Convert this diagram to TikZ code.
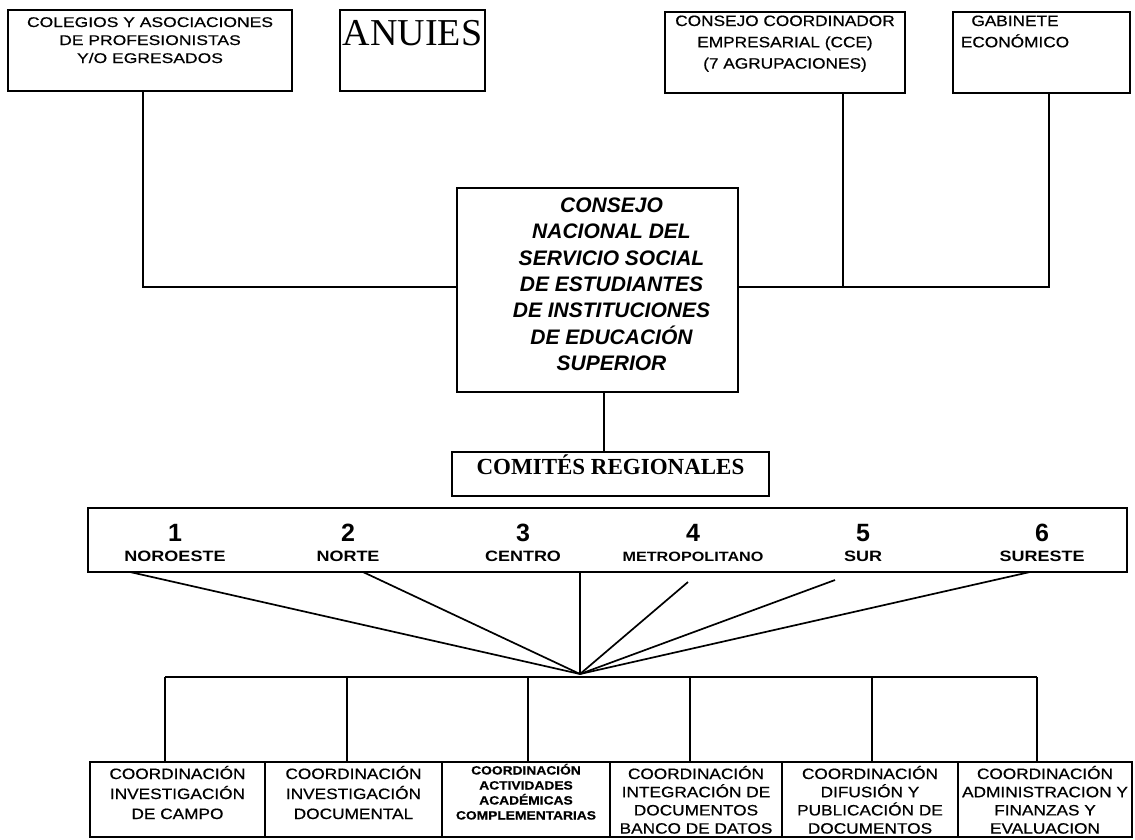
\documentclass[tikz,border=0pt]{standalone}
\usepackage{fontspec}
\setmainfont{Liberation Serif}
\newfontfamily\optf[FakeStretch=1.15,FakeBold=0.6]{Liberation Sans}
\newfontfamily\optw[FakeStretch=1.25,FakeBold=0.6]{Liberation Sans}
\newfontfamily\regf[FakeStretch=1.2]{Liberation Sans}
\newfontfamily\arialf{Liberation Sans}
\newcommand\bx[6]{\parbox[c][#2][t]{#1}{#4\centering\vspace*{#3}\leavevmode\smash{#5}#6\par}}
\tikzset{
  bxs/.style={draw, line width=1.7pt, inner sep=0pt, outer sep=0pt, anchor=north west},
  ln/.style={line width=1.7pt},
  numf/.style={anchor=base, inner sep=0pt, font=\arialf\bfseries\fontsize{25}{25}\selectfont},
  labf/.style={anchor=base, inner sep=0pt, font=\regf\bfseries\fontsize{15}{15}\selectfont}
}
\begin{document}
\begin{tikzpicture}[x=1pt,y=-1pt]
\fill[white] (0,0) rectangle (1135,839);
\useasboundingbox (0,0) rectangle (1135,839);
% top boxes
\node[bxs] (col) at (8,10) {\bx{284pt}{81pt}{17pt}{\optw\fontsize{14}{18}\selectfont}{COLEGIOS Y ASOCIACIONES}{\\DE PROFESIONISTAS\\Y/O EGRESADOS}};
\node[bxs] (anu) at (340,10) {\bx{145pt}{81pt}{35pt}{\fontsize{38}{40}\selectfont}{ANUIES}{}};
\node[bxs] (cce) at (665,12) {\bx{240pt}{81pt}{14pt}{\optf\fontsize{15}{21.3}\selectfont}{CONSEJO COORDINADOR}{\\EMPRESARIAL (CCE)\\(7 AGRUPACIONES)}};
\node[bxs] (gab) at (953,12) {\bx{124pt}{81pt}{14pt}{\optf\fontsize{15}{21.3}\selectfont}{GABINETE}{\\ECONÓMICO}\hspace*{53pt}};
% central council
\node[bxs] (cn) at (457,188) {\hspace*{28pt}\bx{253pt}{204pt}{24.5pt}{\arialf\bfseries\itshape\fontsize{21}{26.3}\selectfont}{CONSEJO}{\\NACIONAL DEL\\SERVICIO SOCIAL\\DE ESTUDIANTES\\DE INSTITUCIONES\\DE EDUCACIÓN\\SUPERIOR}};
% comites
\node[bxs] (com) at (452,452) {\bx{317pt}{44pt}{22pt}{\bfseries\fontsize{23}{24}\selectfont}{COMITÉS REGIONALES}{}};
% regions
\node[bxs, minimum width=1039pt, minimum height=64pt] (reg) at (88,508) {};
\node[numf] (n1) at (175,541) {1};
\node[numf] (n2) at (348,541) {2};
\node[numf] (n3) at (523,541) {3};
\node[numf] (n4) at (693,541) {4};
\node[numf] (n5) at (863,541) {5};
\node[numf] (n6) at (1042,541) {6};
\node[labf] (r1) at (175,561) {NOROESTE};
\node[labf] (r2) at (348,561) {NORTE};
\node[labf] (r3) at (523,561) {CENTRO};
\node[labf, font=\regf\bfseries\fontsize{13.5}{14}\selectfont] (r4) at (693,561) {METROPOLITANO};
\node[labf] (r5) at (863,561) {SUR};
\node[labf] (r6) at (1042,561) {SURESTE};
% bottom boxes
\node[bxs] (b1) at (90,762) {\bx{175pt}{75pt}{17pt}{\optf\fontsize{15}{20}\selectfont}{COORDINACIÓN}{\\INVESTIGACIÓN\\DE CAMPO}};
\node[bxs] (b2) at (265,762) {\bx{177pt}{75pt}{17pt}{\optf\fontsize{15}{20}\selectfont}{COORDINACIÓN}{\\INVESTIGACIÓN\\DOCUMENTAL}};
\node[bxs] (b3) at (442,762) {\bx{168pt}{75pt}{12.5pt}{\optf\bfseries\fontsize{12}{15}\selectfont}{COORDINACIÓN}{\\ACTIVIDADES\\ACADÉMICAS\\COMPLEMENTARIAS}};
\node[bxs] (b4) at (610,762) {\bx{172pt}{75pt}{17pt}{\optf\fontsize{15}{18.2}\selectfont}{COORDINACIÓN}{\\INTEGRACIÓN DE\\DOCUMENTOS\\BANCO DE DATOS}};
\node[bxs] (b5) at (782,762) {\bx{176pt}{75pt}{17pt}{\optf\fontsize{15}{18.2}\selectfont}{COORDINACIÓN}{\\DIFUSIÓN Y\\PUBLICACIÓN DE\\DOCUMENTOS}};
\node[bxs] (b6) at (958,762) {\bx{174pt}{75pt}{17pt}{\optf\fontsize{15}{18.2}\selectfont}{COORDINACIÓN}{\\ADMINISTRACION Y\\FINANZAS Y\\EVALUACION}};
% junction coordinates
\coordinate (jl) at (143,287);
\coordinate (jc) at (843,287);
\coordinate (jr) at (1049,287);
\coordinate (sx) at (604,0);
\coordinate (x1) at (130,0);
\coordinate (x2) at (363,0);
\coordinate (x3) at (580,0);
\coordinate (x6) at (1030,0);
\coordinate (s4) at (688,582);
\coordinate (s5) at (835,580);
\coordinate (hub) at (580,674);
\coordinate (d1) at (165,677);
\coordinate (d2) at (347,677);
\coordinate (d3) at (528,677);
\coordinate (d4) at (690,677);
\coordinate (d5) at (872,677);
\coordinate (d6) at (1037,677);
% top connectors
\draw[ln] (jl |- col.south) -- (jl) -- (cn.west |- jl);
\draw[ln] (jc |- cce.south) -- (jc);
\draw[ln] (jr |- gab.south) -- (jr) -- (cn.east |- jr);
\draw[ln] (cn.south -| sx) -- (com.north -| sx);
% fan from regions
\draw[ln] (reg.south -| x1) -- (hub);
\draw[ln] (reg.south -| x2) -- (hub);
\draw[ln] (reg.south -| x3) -- (hub);
\draw[ln] (s4) -- (hub);
\draw[ln] (s5) -- (hub);
\draw[ln] (reg.south -| x6) -- (hub);
% bus and drops
\draw[ln] (d1) -- (d6);
\foreach \i in {1,...,6} { \draw[ln] (d\i) -- (d\i |- b\i.north); }
\end{tikzpicture}
\end{document}
